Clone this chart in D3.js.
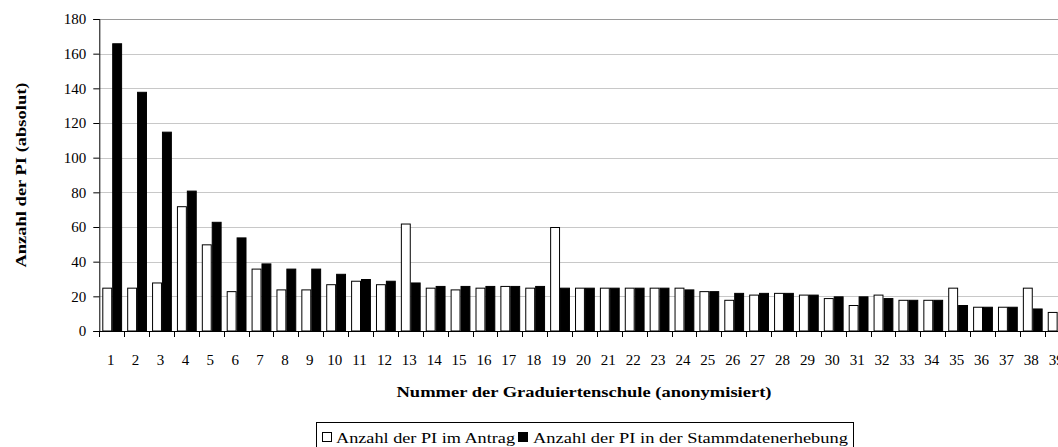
<!DOCTYPE html>
<html><head><meta charset="utf-8">
<script src="https://cdn.jsdelivr.net/npm/d3@7"></script>
<style>
html,body{margin:0;padding:0;background:#fff;overflow:hidden;}
svg{display:block;}
</style></head>
<body>
<svg id="chart" width="1058" height="447"></svg>
<script>
const categories = ["1","2","3","4","5","6","7","8","9","10","11","12","13","14","15","16","17","18","19","20","21","22","23","24","25","26","27","28","29","30","31","32","33","34","35","36","37","38","39"];
const antrag = [25,25,28,72,50,23,36,24,24,27,29,27,62,25,24,25,26,25,60,25,25,25,25,25,23,18,21,22,21,19,15,21,18,18,25,14,14,25,11];
const stammdaten = [166,138,115,81,63,54,39,36,36,33,30,29,28,26,26,26,26,26,25,25,25,25,25,24,23,22,22,22,21,20,20,19,18,18,15,14,14,13,null];
const yTicks = [0,20,40,60,80,100,120,140,160,180];
const seriesNames = ["Anzahl der PI im Antrag","Anzahl der PI in der Stammdatenerhebung"];
const seriesFill = ["#ffffff","#000000"];
const yTitle = "Anzahl der PI (absolut)";
const xTitle = "Nummer der Graduiertenschule (anonymisiert)";

const FONT = "'Liberation Serif'";
const svg = d3.select("#chart");
const mLeft = 99.3, mTop = 19, mBottom = 331, step = 24.88;
const mRight = mLeft + step * categories.length;

const x = d3.scaleBand().domain(categories).range([mLeft, mRight]).padding(0);
const inner = d3.scaleBand().domain([0,1]).range([3, 22.8]).padding(0);
const y = d3.scaleLinear().domain([0,180]).range([mBottom, mTop]);

function txt(sel, size, bold) {
  return sel.style("font-family", FONT).style("font-size", size + "px")
    .style("font-weight", bold ? "bold" : "normal").style("fill", "#000");
}

// gridlines
svg.append("g").selectAll("line").data(yTicks.filter(d => d > 0)).join("line")
  .attr("x1", mLeft).attr("x2", mRight)
  .attr("y1", d => Math.round(y(d)) + 0.5).attr("y2", d => Math.round(y(d)) + 0.5)
  .attr("stroke", d => d === 180 ? "#9a9a9a" : "#c8c8c8").attr("stroke-width", 1);

// bars
const data = categories.map((c, i) => ({c, vals: [antrag[i], stammdaten[i]]}));
const groups = svg.append("g").selectAll("g").data(data).join("g")
  .attr("transform", d => `translate(${x(d.c)},0)`);
groups.selectAll("rect").data(d => d.vals.map((v, k) => ({v, k})).filter(e => e.v != null)).join("rect")
  .attr("x", e => inner(e.k) + 0.5)
  .attr("width", inner.bandwidth() - 1)
  .attr("y", e => y(e.v) + 0.5)
  .attr("height", e => y(0) - y(e.v) - 0.5)
  .attr("fill", e => seriesFill[e.k])
  .attr("stroke", "#000").attr("stroke-width", 1);

// y axis
const yAxis = d3.axisLeft(y).tickValues(yTicks).tickSize(6).tickPadding(7).tickFormat(d3.format("d"));
const gy = svg.append("g").attr("transform", `translate(${mLeft},0)`).call(yAxis);
gy.attr("font-family", null).attr("font-size", null);
gy.select(".domain").attr("stroke", "#000");
gy.selectAll(".tick line").attr("stroke", "#000");
txt(gy.selectAll(".tick text"), 15, false);

// x axis
const boundaries = d3.range(categories.length + 1).map(i => mLeft + i * step);
svg.append("line").attr("x1", mLeft).attr("x2", mRight).attr("y1", mBottom + 0.5).attr("y2", mBottom + 0.5).attr("stroke", "#000");
svg.append("g").selectAll("line").data(boundaries).join("line")
  .attr("x1", d => Math.round(d) + 0.5).attr("x2", d => Math.round(d) + 0.5)
  .attr("y1", mBottom).attr("y2", mBottom + 6).attr("stroke", "#000");
txt(svg.append("g").selectAll("text").data(categories).join("text")
  .attr("x", d => x(d) + x.bandwidth() / 2 - 1)
  .attr("y", 365)
  .attr("text-anchor", "middle")
  .text(d => d), 15, false);

// axis titles
txt(svg.append("text")
  .attr("transform", "translate(26,175) rotate(-90)")
  .attr("text-anchor", "middle")
  .attr("textLength", 185).attr("lengthAdjust", "spacingAndGlyphs")
  .text(yTitle), 15, true);
txt(svg.append("text")
  .attr("x", 584).attr("y", 397)
  .attr("text-anchor", "middle")
  .attr("textLength", 375).attr("lengthAdjust", "spacingAndGlyphs")
  .text(xTitle), 15, true);

// legend
const lg = svg.append("g");
lg.append("rect").attr("x", 316.5).attr("y", 422.5).attr("width", 537).attr("height", 30)
  .attr("fill", "none").attr("stroke", "#000");
const items = [
  {sx: 322, tx: 336, tw: 179},
  {sx: 518, tx: 533, tw: 315}
];
items.forEach((it, k) => {
  lg.append("rect").attr("x", it.sx + 0.5).attr("y", 432.5).attr("width", 9).attr("height", 9)
    .attr("fill", seriesFill[k]).attr("stroke", "#000");
  txt(lg.append("text").attr("x", it.tx).attr("y", 443)
    .attr("textLength", it.tw).attr("lengthAdjust", "spacingAndGlyphs")
    .text(seriesNames[k]), 15, false);
});
</script>
</body></html>
